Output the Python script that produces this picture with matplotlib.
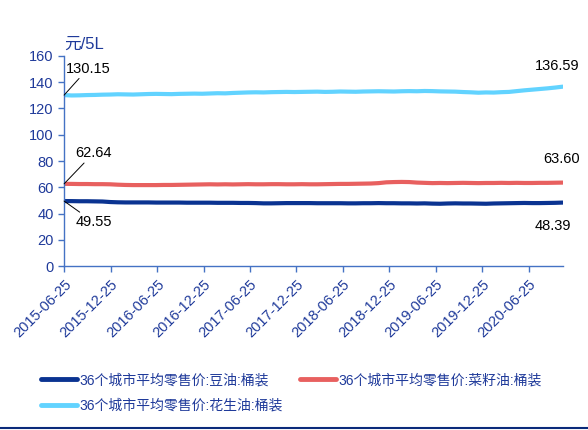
import matplotlib
matplotlib.use("Agg")
import matplotlib.pyplot as plt
from matplotlib.lines import Line2D
import pandas as pd

plt.rcParams['font.family'] = ['Liberation Sans', 'Noto Sans CJK SC', 'DejaVu Sans']

start_date = "2015-06-25"
end_date = "2020-11-06"
n_points = 66

peanut = [130.15, 129.9, 130.0, 130.2, 130.3, 130.5,
          130.6, 130.8, 130.7, 130.6, 130.8, 131.0,
          131.1, 131.0, 130.9, 131.1, 131.2, 131.3,
          131.2, 131.4, 131.6, 131.5, 131.8, 132.0,
          132.2, 132.3, 132.2, 132.4, 132.5, 132.6,
          132.5, 132.6, 132.7, 132.8, 132.6, 132.7,
          132.9, 132.8, 132.7, 132.9, 133.0, 133.1,
          133.0, 132.9, 133.1, 133.2, 133.1, 133.3,
          133.2, 133.0, 132.9, 132.8, 132.5, 132.3,
          132.0, 132.2, 132.1, 132.4, 132.6, 133.2,
          133.8, 134.3, 134.8, 135.3, 135.9, 136.59]

rapeseed = [62.64, 62.6, 62.5, 62.5, 62.4, 62.4,
            62.3, 62.0, 61.8, 61.7, 61.7, 61.7,
            61.7, 61.8, 61.8, 61.9, 62.0, 62.1,
            62.2, 62.3, 62.2, 62.3, 62.2, 62.3,
            62.4, 62.3, 62.3, 62.4, 62.4, 62.3,
            62.3, 62.4, 62.3, 62.3, 62.4, 62.5,
            62.6, 62.6, 62.7, 62.8, 62.9, 63.2,
            63.8, 64.0, 64.1, 64.0, 63.6, 63.4,
            63.2, 63.3, 63.2, 63.3, 63.4, 63.3,
            63.2, 63.3, 63.3, 63.4, 63.3, 63.4,
            63.3, 63.3, 63.4, 63.4, 63.5, 63.60]

soybean = [49.55, 49.5, 49.4, 49.4, 49.3, 49.2,
           48.8, 48.6, 48.5, 48.5, 48.5, 48.5,
           48.4, 48.4, 48.4, 48.4, 48.3, 48.3,
           48.3, 48.3, 48.2, 48.2, 48.2, 48.1,
           48.1, 48.0, 47.8, 47.8, 47.9, 48.0,
           48.0, 48.0, 48.0, 47.9, 47.9, 47.9,
           47.9, 47.8, 47.8, 47.9, 47.9, 48.0,
           47.9, 47.9, 47.8, 47.8, 47.7, 47.8,
           47.6, 47.5, 47.7, 47.8, 47.7, 47.7,
           47.6, 47.5, 47.7, 47.8, 47.9, 48.0,
           48.1, 48.0, 48.0, 48.1, 48.2, 48.39]

series_names = ["36个城市平均零售价:豆油:桶装",
                "36个城市平均零售价:菜籽油:桶装",
                "36个城市平均零售价:花生油:桶装"]
tick_labels = ["2015-06-25", "2015-12-25", "2016-06-25", "2016-12-25",
               "2017-06-25", "2017-12-25", "2018-06-25", "2018-12-25",
               "2019-06-25", "2019-12-25", "2020-06-25"]
y_ticks = [0, 20, 40, 60, 80, 100, 120, 140, 160]

dates = pd.date_range(start_date, end_date, periods=n_points)

c_soy = "#0A3391"
c_rape = "#E8605F"
c_peanut = "#62D3FF"
c_axis = "#4472C4"
c_text = "#1F3A9A"

fig = plt.figure(figsize=(5.88, 4.30), dpi=100)
ax = fig.add_axes([0.109, 0.381, 0.848, 0.489])

l_soy, = ax.plot(dates, soybean, color=c_soy, lw=3, label=series_names[0], solid_capstyle='round')
l_rape, = ax.plot(dates, rapeseed, color=c_rape, lw=3, label=series_names[1], solid_capstyle='round')
l_pea, = ax.plot(dates, peanut, color=c_peanut, lw=3, label=series_names[2], solid_capstyle='round')

ax.set_ylim(0, 160)
ax.set_yticks(y_ticks)
ax.set_xlim(dates[0], dates[-1])
tick_dates = pd.to_datetime(tick_labels)
ax.set_xticks(tick_dates)
ax.set_xticklabels(tick_labels, rotation=45, ha='right', rotation_mode='anchor')

for s in ['top', 'right']:
    ax.spines[s].set_visible(False)
for s in ['left', 'bottom']:
    ax.spines[s].set_color(c_axis)
    ax.spines[s].set_linewidth(1.0)
ax.tick_params(axis='both', colors=c_axis, labelcolor=c_text, labelsize=10.5, length=4, width=1)
ax.tick_params(axis='x', pad=4)

fs = 10.5
# start annotations
ax.annotate(f"{peanut[0]:.2f}", xy=(dates[0], peanut[0]), xytext=(1, 14),
            textcoords='offset points', fontsize=fs, color='black',
            arrowprops=dict(arrowstyle='-', color='black', lw=0.7, shrinkA=0, shrinkB=0),
            ha='left', va='bottom')
ax.annotate(f"{rapeseed[0]:.2f}", xy=(dates[0], rapeseed[0]), xytext=(8, 17),
            textcoords='offset points', fontsize=fs, color='black',
            arrowprops=dict(arrowstyle='-', color='black', lw=0.7, shrinkA=0, shrinkB=0),
            ha='left', va='bottom')
ax.annotate(f"{soybean[0]:.2f}", xy=(dates[0], soybean[0]), xytext=(8, -10),
            textcoords='offset points', fontsize=fs, color='black',
            arrowprops=dict(arrowstyle='-', color='black', lw=0.7, shrinkA=0, shrinkB=0),
            ha='left', va='top')
# end annotations
ax.annotate(f"{peanut[-1]:.2f}", xy=(dates[-1], peanut[-1]), xytext=(12, 10),
            textcoords='offset points', fontsize=fs, color='black', ha='right', va='bottom')
ax.annotate(f"{rapeseed[-1]:.2f}", xy=(dates[-1], rapeseed[-1]), xytext=(12, 12),
            textcoords='offset points', fontsize=fs, color='black', ha='right', va='bottom')
ax.annotate(f"{soybean[-1]:.2f}", xy=(dates[-1], soybean[-1]), xytext=(6, -12),
            textcoords='offset points', fontsize=fs, color='black', ha='right', va='top')

fig.text(0.109, 0.88, "元/5L", fontsize=12, color=c_text, ha='left', va='bottom')

leg = fig.legend(handles=[l_soy, l_pea, l_rape],
                 labels=[series_names[0], series_names[2], series_names[1]],
                 loc='upper left', bbox_to_anchor=(0.06, 0.145), ncol=2, frameon=False,
                 fontsize=10, handlelength=2.6, handletextpad=0.2, columnspacing=1.2,
                 labelspacing=0.85, borderaxespad=0)
for t in leg.get_texts():
    t.set_color(c_text)
for h in leg.legend_handles:
    h.set_linewidth(3.5)

fig.add_artist(Line2D([0, 1], [0.004, 0.004], transform=fig.transFigure, color="#0A2A7A", lw=1.5))

fig.savefig("out.png", dpi=100)
